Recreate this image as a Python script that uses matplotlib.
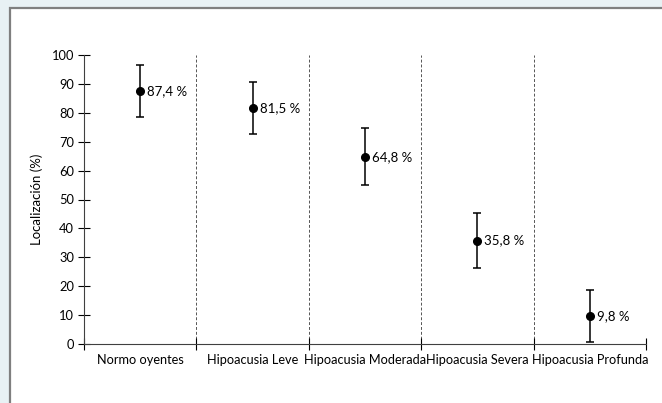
import matplotlib.pyplot as plt
from matplotlib.patches import Rectangle

categorias = ["Normo oyentes", "Hipoacusia Leve", "Hipoacusia Moderada",
              "Hipoacusia Severa", "Hipoacusia Profunda"]
localizacion = [87.4, 81.5, 64.8, 35.8, 9.8]
error = [9.0, 9.0, 9.8, 9.4, 9.0]
etiquetas = ["87,4 %", "81,5 %", "64,8 %", "35,8 %", "9,8 %"]

plt.rcParams["font.family"] = ["Lato", "DejaVu Sans"]

fig = plt.figure(figsize=(6.62, 4.03), dpi=100)
fig.patch.set_facecolor("#e8f1f4")

# white panel with gray border, kept behind the axes
panel = Rectangle((10 / 662, -0.05), 1.1, 1 - 8 / 403 + 0.05,
                  transform=fig.transFigure, facecolor="white",
                  edgecolor="#7f7f7f", linewidth=1.6, zorder=-10)
fig.patches.append(panel)

ax = fig.add_axes([84 / 662, 1 - 344 / 403, (646 - 84) / 662, (344 - 55) / 403])
ax.set_facecolor("none")

x = list(range(len(categorias)))
ax.errorbar(x, localizacion, yerr=error, fmt="o", color="black",
            markersize=5.5, elinewidth=1.1, capsize=3, capthick=1.1, zorder=3)
for xi, yi, txt in zip(x, localizacion, etiquetas):
    ax.annotate(txt, (xi, yi), xytext=(5, 0), textcoords="offset points",
                ha="left", va="center", fontsize=9.5)

# dashed separators between groups
for b in [i + 0.5 for i in x]:
    ax.plot([b, b], [0, 100], linestyle=(0, (3, 2)), color="#555555",
            linewidth=0.7, zorder=1)

ax.set_xlim(-0.5, len(categorias) - 0.5)
ax.set_ylim(0, 100)
ax.set_yticks(range(0, 101, 10))
ax.set_xticks([i - 0.5 for i in range(len(categorias) + 1)])
ax.set_xticklabels([])
ax.set_xticks(x, minor=True)
ax.set_xticklabels(categorias, minor=True, fontsize=9.2)
ax.tick_params(axis="x", which="minor", length=0, pad=7)
ax.tick_params(axis="x", which="major", direction="inout", length=8, width=0.8)
ax.tick_params(axis="y", direction="inout", length=8, width=0.8, labelsize=9.3, pad=3)
ax.set_ylabel("Localización (%)", fontsize=9.5, labelpad=6)

for s in ["top", "right"]:
    ax.spines[s].set_visible(False)
ax.spines["left"].set_color("#404040")
ax.spines["bottom"].set_color("#404040")

fig.savefig("out.png", dpi=100, facecolor=fig.get_facecolor())
